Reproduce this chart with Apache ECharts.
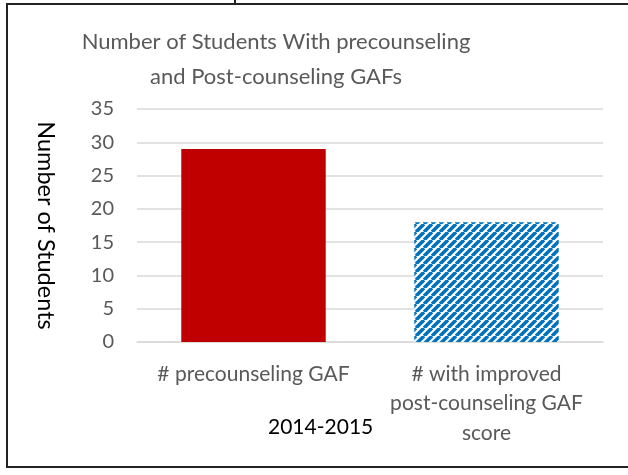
<!DOCTYPE html>
<html>
<head>
<meta charset="utf-8">
<script src="https://cdn.jsdelivr.net/npm/echarts@6/dist/echarts.min.js"></script>
<style>
  html, body { margin: 0; padding: 0; background: #fff; }
  #chart { width: 628px; height: 475px; }
</style>
</head>
<body>
<div id="chart"></div>
<script>
// chart data
const categories = ["# precounseling GAF", "# with improved\npost-counseling GAF\nscore"];
const studentCounts = [29, 18];
const yTicks = [0, 5, 10, 15, 20, 25, 30, 35];

const chartTitle = "Number of Students With precounseling\nand Post-counseling GAFs";
const yAxisTitle = "Number of Students";
const periodLabel = "2014-2015";

// diagonal stripe pattern for the second bar
const makeStripes = (color) => {
  const size = 8;
  const c = document.createElement("canvas");
  c.width = size;
  c.height = size;
  const ctx = c.getContext("2d");
  ctx.fillStyle = "#fff";
  ctx.fillRect(0, 0, size, size);
  ctx.strokeStyle = color;
  ctx.lineWidth = 3.5;
  ctx.beginPath();
  for (let k = -1; k <= 1; k++) {
    ctx.moveTo(k * size, size);
    ctx.lineTo(k * size + size, 0);
  }
  ctx.stroke();
  return {image: c, repeat: "repeat"};
};

const barColors = ["#C00000", makeStripes("#0070C0")];

const chart = echarts.init(document.getElementById("chart"));

const fontFamily = "Lato, 'Open Sans', sans-serif";

chart.setOption({
  animation: false,
  textStyle: {fontFamily},
  title: {
    text: chartTitle,
    left: 271,
    top: 19,
    textAlign: "center",
    textStyle: {
      fontFamily,
      fontSize: 22,
      fontWeight: "normal",
      lineHeight: 35,
      color: "#595959",
    },
  },
  grid: {left: 137, right: 25, top: 109, bottom: 133},
  xAxis: {
    type: "category",
    data: categories,
    axisTick: {show: false},
    axisLine: {lineStyle: {color: "#D9D9D9", width: 1.5}},
    axisLabel: {
      color: "#595959",
      fontSize: 21,
      lineHeight: 29.5,
      margin: 17,
      interval: 0,
    },
  },
  yAxis: {
    type: "value",
    min: yTicks[0],
    max: yTicks[yTicks.length - 1],
    interval: 5,
    name: yAxisTitle,
    nameLocation: "middle",
    nameRotate: -90,
    nameGap: 79,
    nameTextStyle: {color: "#000", fontSize: 23.5},
    axisLine: {show: false},
    axisTick: {show: false},
    axisLabel: {color: "#595959", fontSize: 20, margin: 23},
    splitLine: {lineStyle: {color: "#D9D9D9", width: 1.5}},
  },
  series: [
    {
      type: "bar",
      barWidth: "62%",
      data: studentCounts.map((v, i) => ({value: v, itemStyle: {color: barColors[i]}})),
    },
  ],
  graphic: [
    {
      type: "polyline",
      shape: {points: [[640, 4], [7, 4], [7, 467], [640, 467]]},
      style: {stroke: "#222", lineWidth: 2, fill: null},
      silent: true,
    },
    {
      type: "line",
      shape: {x1: 235, y1: 0, x2: 235, y2: 4},
      style: {stroke: "#222", lineWidth: 2},
      silent: true,
    },
    {
      type: "text",
      left: 268,
      top: 417,
      style: {text: periodLabel, fill: "#000", fontSize: 21, fontFamily},
    },
  ],
});
</script>
</body>
</html>
